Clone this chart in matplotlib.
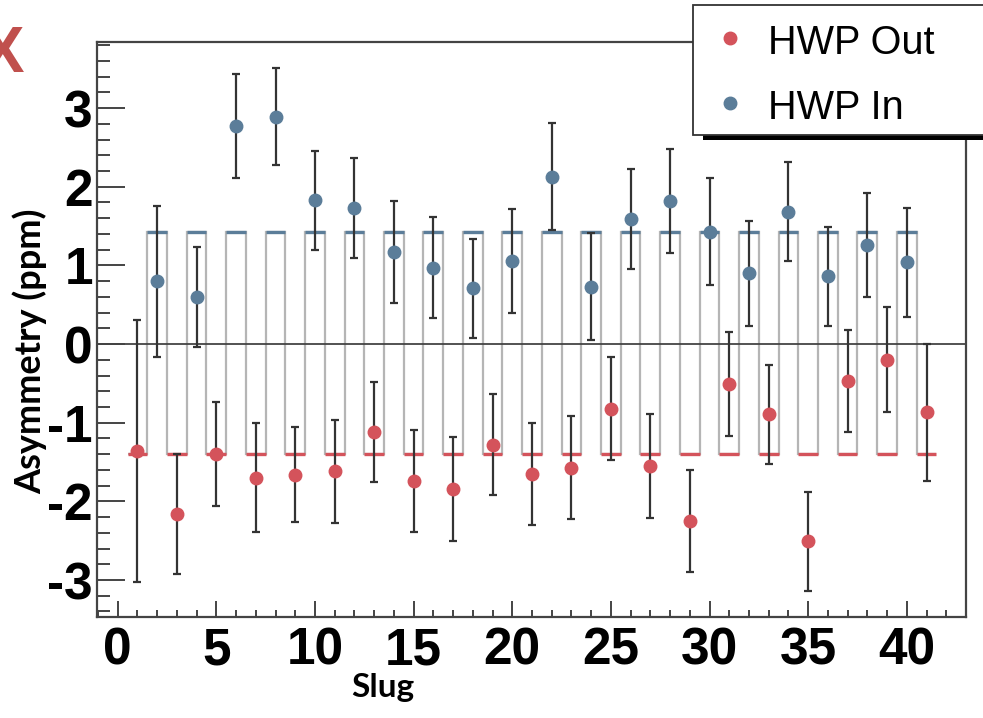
import numpy as np
import matplotlib
matplotlib.use("Agg")
import matplotlib.pyplot as plt
from matplotlib.patches import Rectangle
from matplotlib.lines import Line2D
from matplotlib.ticker import MultipleLocator

plt.rcParams['axes.unicode_minus'] = False

# -----------------------------
# DATA
# -----------------------------
slugs_out = [1, 3, 5, 7, 9, 11, 13, 15, 17, 19, 21, 23, 25, 27, 29, 31, 33, 35, 37, 39, 41]
asym_out = [-1.36, -2.16, -1.40, -1.70, -1.66, -1.62, -1.12, -1.74, -1.84, -1.28, -1.65,
            -1.57, -0.82, -1.55, -2.25, -0.51, -0.89, -2.51, -0.47, -0.20, -0.87]
err_out = [1.66, 0.76, 0.66, 0.69, 0.60, 0.65, 0.64, 0.65, 0.66, 0.64, 0.65,
           0.66, 0.66, 0.66, 0.65, 0.66, 0.63, 0.63, 0.65, 0.67, 0.87]

slugs_in = [2, 4, 6, 8, 10, 12, 14, 16, 18, 20, 22, 24, 26, 28, 30, 32, 34, 36, 38, 40]
asym_in = [0.80, 0.60, 2.77, 2.89, 1.83, 1.73, 1.17, 0.97, 0.71, 1.06,
           2.13, 0.73, 1.59, 1.82, 1.43, 0.90, 1.68, 0.86, 1.26, 1.04]
err_in = [0.96, 0.64, 0.66, 0.62, 0.63, 0.64, 0.65, 0.64, 0.63, 0.66,
          0.68, 0.68, 0.64, 0.66, 0.68, 0.67, 0.63, 0.63, 0.66, 0.69]

fit_out = -1.40   # fitted level, HWP out
fit_in = 1.42     # fitted level, HWP in

red = '#d4535b'
blue = '#5b7d99'
dark = '#333333'

# -----------------------------
# FIGURE
# -----------------------------
W, H = 983, 718
fig = plt.figure(figsize=(W / 100, H / 100), dpi=100)
ax = fig.add_axes([97 / W, 1 - 617 / H, (966 - 97) / W, (617 - 42) / H])

# step pattern of the fitted levels
all_slugs = sorted(slugs_out + slugs_in)
levels = [fit_in if s % 2 == 0 else fit_out for s in all_slugs]
edges = [s - 0.5 for s in all_slugs] + [all_slugs[-1] + 0.5]
ax.stairs(levels, edges, baseline=None, color='#b5b5b5', lw=1.6, zorder=1)
so = np.array(slugs_out)
si = np.array(slugs_in)
ax.hlines([fit_out] * len(so), so - 0.5, so + 0.5, color=red, lw=2.4, zorder=2)
ax.hlines([fit_in] * len(si), si - 0.5, si + 0.5, color=blue, lw=2.4, zorder=2)

ax.axhline(0, color='#444444', lw=1.3, zorder=2)

ax.errorbar(slugs_out, asym_out, yerr=err_out, fmt='o', color=red, ms=9,
            ecolor=dark, elinewidth=1.6, capsize=3, capthick=1.6, zorder=3)
ax.errorbar(slugs_in, asym_in, yerr=err_in, fmt='o', color=blue, ms=9,
            ecolor=dark, elinewidth=1.6, capsize=3, capthick=1.6, zorder=3)

ax.set_xlim(-1.05, 43)
ax.set_ylim(-3.47, 3.84)
ax.xaxis.set_major_locator(MultipleLocator(5))
ax.xaxis.set_minor_locator(MultipleLocator(1))
ax.yaxis.set_major_locator(MultipleLocator(1))
ax.yaxis.set_minor_locator(MultipleLocator(0.2))

for sp in ax.spines.values():
    sp.set_color('#444444')
    sp.set_linewidth(1.6)

ax.tick_params(axis='x', which='major', direction='in', length=11.5, width=1.4,
               color='#444444', pad=7)
ax.tick_params(axis='x', which='minor', direction='in', length=5, width=1.4, color='#444444')
ax.tick_params(axis='y', which='major', direction='in', length=20, width=1.4,
               color='#444444', pad=3)
ax.tick_params(axis='y', which='minor', direction='in', length=9.4, width=1.4, color='#444444')
for lbl in ax.get_xticklabels() + ax.get_yticklabels():
    lbl.set_family('Liberation Sans')
    lbl.set_fontweight('bold')
    lbl.set_fontsize(37)

fig.text(30 / W, 1 - 351 / H, 'Asymmetry (ppm)', rotation=90, ha='center', va='center',
         fontsize=26, family='Lato', fontweight='bold')
fig.text(383 / W, 1 - 688 / H, 'Slug', ha='center', va='center',
         fontsize=24, family='Lato', fontweight='bold')

# legend box (runs off the right edge, with shadow)
fig.add_artist(Rectangle((703 / W, 1 - 140 / H), 1, 135 / H, transform=fig.transFigure,
                         facecolor='black', edgecolor='none', zorder=5))
fig.add_artist(Rectangle((693 / W, 1 - 135 / H), 1, 130 / H, transform=fig.transFigure,
                         facecolor='white', edgecolor='#333333', lw=1.3, zorder=6))
fig.add_artist(Line2D([730 / W], [1 - 38 / H], marker='o', ms=9, color=red,
                      transform=fig.transFigure, zorder=7))
fig.add_artist(Line2D([730 / W], [1 - 103 / H], marker='o', ms=9, color=blue,
                      transform=fig.transFigure, zorder=7))
fig.text(768 / W, 1 - 54 / H, 'HWP Out', ha='left', va='baseline', fontsize=28.5,
         family='Liberation Sans', zorder=7)
fig.text(768 / W, 1 - 119 / H, 'HWP In', ha='left', va='baseline', fontsize=28.5,
         family='Liberation Sans', zorder=7)

# red cross in the corner (partly cut off, as in the source slide)
fig.text(24 / W, 1 - 72 / H, 'X', ha='right', va='baseline', fontsize=47,
         family='Liberation Sans', fontweight='bold', color='#c0504d')

fig.savefig('out.png', dpi=100)
